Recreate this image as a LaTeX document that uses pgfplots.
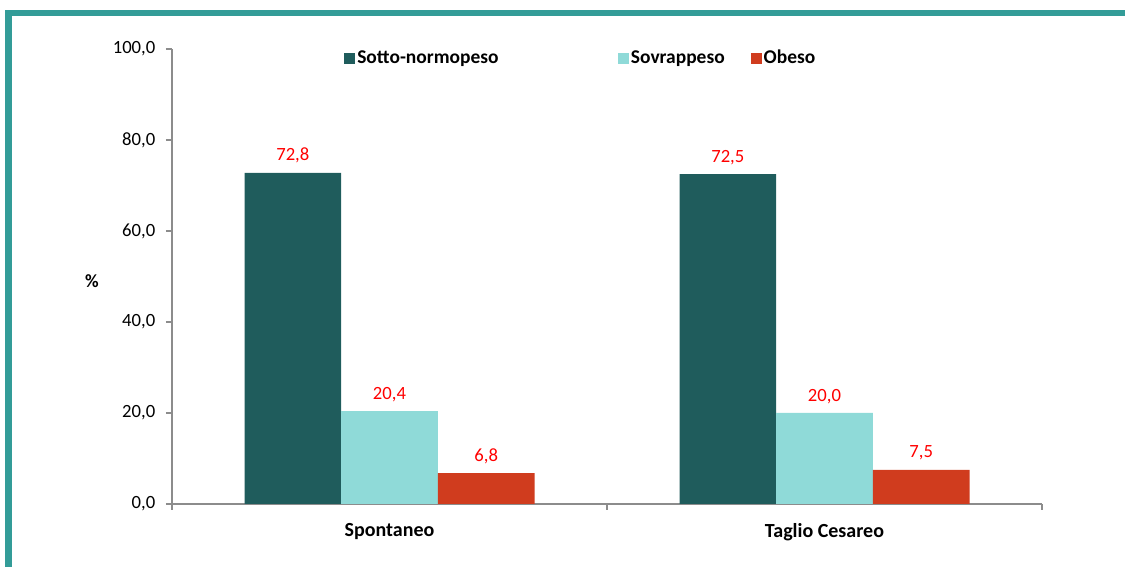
\documentclass[border=0pt]{standalone}
\usepackage{pgfplots}
\pgfplotsset{compat=1.18}
\usepackage{fontspec}
\setmainfont{Carlito}
\definecolor{frameteal}{HTML}{339C98}
\definecolor{cdark}{HTML}{1F5C5C}
\definecolor{clight}{HTML}{8FDAD8}
\definecolor{cred}{HTML}{D03C1E}
\definecolor{axgray}{HTML}{8C8C8C}
\begin{document}
\begin{tikzpicture}
\useasboundingbox (0pt,0pt) rectangle (843.75pt,425.25pt);
\fill[frameteal] (3.75pt,413.25pt) rectangle (843.75pt,417.75pt);
\fill[frameteal] (3.75pt,0pt) rectangle (9pt,417.75pt);
\begin{axis}[
  at={(129pt,47.25pt)}, anchor=south west,
  scale only axis, width=652.5pt, height=341.25pt,
  font=\fontsize{14}{17}\selectfont,
  ybar=0pt, bar width=72.5pt,
  xmin=-0.5, xmax=1.5, ymin=0, ymax=100,
  axis x line=bottom, axis y line=left,
  axis line style={-, axgray, line width=1pt},
  xtick={-0.5,0.5,1.5}, xticklabels={},
  extra x ticks={0,1}, extra x tick labels={\textbf{Spontaneo},\textbf{Taglio Cesareo}},
  extra x tick style={major tick length=0pt, x tick label style={yshift=-11pt, font=\fontsize{15}{18}\selectfont}},
  major tick length=4.5pt,
  ytick={0,20,40,60,80,100},
  tick align=outside,
  tick style={axgray, line width=1pt},
  y tick label style={xshift=-4.5pt},
  /pgf/number format/.cd, fixed, fixed zerofill, precision=1, use comma, assume math mode=true,
  /pgfplots/.cd,
  ylabel={\textbf{\%}},
  ylabel style={at={(axis description cs:-0.092,0.49)}, rotate=-90, anchor=center},
  nodes near coords,
  nodes near coords style={text=red, anchor=south, inner sep=0pt, yshift=7pt,
     /pgf/number format/.cd, fixed, fixed zerofill, precision=1, use comma, assume math mode=true},
  legend columns=3,
  legend style={at={(rel axis cs:0.1977,0.98)}, anchor=west, draw=none, fill=none,
     inner sep=0pt, font=\fontsize{14.6}{17}\selectfont\bfseries,
     nodes={inner sep=1.5pt},
     /tikz/every even column/.append style={column sep=18pt}},
  legend image code/.code={\fill[#1] (0pt,-4.1pt) rectangle (8.25pt,4.1pt);},
]
\addplot[fill=cdark, draw=none] coordinates {(0,72.8) (1,72.5)};
\addlegendentry{Sotto-normopeso\hspace{70pt}\null}
\addplot[fill=clight, draw=none] coordinates {(0,20.4) (1,20.0)};
\addlegendentry{Sovrappeso}
\addplot[fill=cred, draw=none] coordinates {(0,6.8) (1,7.5)};
\addlegendentry{Obeso}
\end{axis}
\end{tikzpicture}
\end{document}
